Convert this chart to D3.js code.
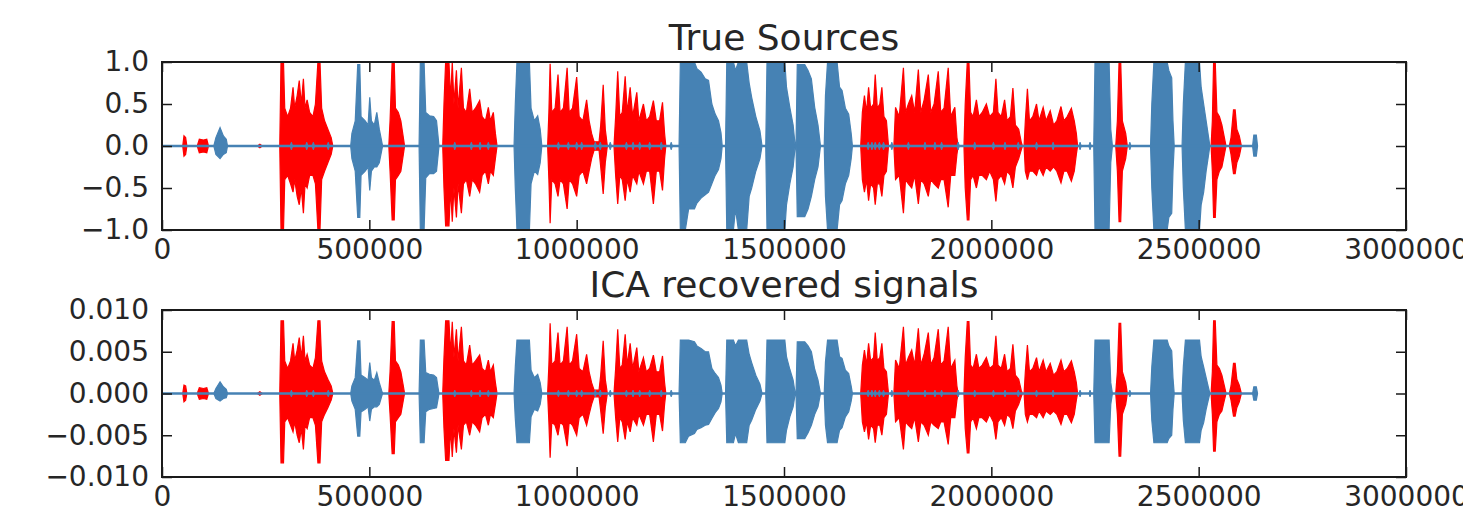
<!DOCTYPE html>
<html>
<head>
<meta charset="utf-8">
<script src="https://cdn.jsdelivr.net/npm/d3@7"></script>
<style>
  body { margin: 0; background: #fff; }
  text { font-family: "DejaVu Sans", sans-serif; fill: #262626; }
</style>
</head>
<body>
<div id="chart"></div>
<script>

// envelopes of the two signals
// each point: [sample index in thousands, upper value, lower value]

const redTop = [
    [50,0,0],[53,0.12,-0.12],[57,0.1,-0.1],[60,0,0],
    [85,0,0],[90,0.08,-0.08],[100,0.07,-0.07],[108,0.08,-0.08],[112,0,0],
    [230,0,0],[236,0.02,-0.02],[242,0,0],
    [284,0,0],[287,1.0,-1.0],[293,1.0,-1.0],[296,0.45,-0.4],[303,0.35,-0.35],[310,0.45,-0.45],[316,0.7,-0.55],[320,0.45,-0.4],[326,0.6,-0.6],[331,0.78,-0.7],[336,0.5,-0.5],[341,0.8,-0.8],[345,0.45,-0.45],[350,0.55,-0.5],[356,0.4,-0.35],[364,0.35,-0.35],[370,0.5,-0.45],[376,1.0,-1.0],[381,1.0,-1.0],[385,0.45,-0.4],[392,0.3,-0.3],[400,0.2,-0.2],[408,0.1,-0.1],[412,0,0],
    [547,0,0],[550,0.3,-0.3],[555,1.0,-0.88],[560,1.0,-0.88],[563,0.45,-0.4],[570,0.4,-0.35],[576,0.3,-0.3],[582,0.1,-0.1],[585,0,0],
    [677,0,0],[680,0.5,-0.5],[684,1.0,-0.95],[692,1.0,-0.95],[696,0.55,-0.5],[700,1.0,-0.9],[704,0.5,-0.5],[710,0.9,-0.85],[714,0.45,-0.45],[722,0.93,-0.8],[727,0.45,-0.45],[734,0.4,-0.4],[742,0.68,-0.6],[748,0.4,-0.4],[756,0.45,-0.45],[766,0.54,-0.55],[772,0.35,-0.35],[780,0.3,-0.3],[787,0.46,-0.45],[792,0.3,-0.3],[799,0.4,-0.35],[804,0.15,-0.15],[808,0,0],
    [930,0,0],[933,0.4,-0.4],[936,0.98,-0.92],[940,0.4,-0.4],[948,0.45,-0.45],[955,0.85,-0.6],[960,0.4,-0.4],[968,0.45,-0.45],[977,0.93,-0.75],[982,0.4,-0.4],[990,0.45,-0.45],[1000,0.82,-0.6],[1006,0.35,-0.35],[1015,0.3,-0.3],[1024,0.55,-0.45],[1030,0.3,-0.3],[1036,0.15,-0.15],[1042,0.05,-0.05],[1054,0.05,-0.05],[1058,0.25,-0.25],[1064,0.73,-0.57],[1069,0.2,-0.2],[1074,0,0],
    [1090,0,0],[1094,0.35,-0.35],[1099,0.89,-0.69],[1104,0.35,-0.35],[1110,0.4,-0.4],[1117,0.83,-0.65],[1122,0.4,-0.4],[1129,0.7,-0.55],[1135,0.35,-0.35],[1145,0.64,-0.45],[1150,0.3,-0.3],[1161,0.5,-0.45],[1168,0.3,-0.3],[1176,0.35,-0.3],[1185,0.54,-0.69],[1192,0.3,-0.3],[1200,0.3,-0.3],[1207,0.52,-0.53],[1212,0.15,-0.15],[1215,0,0],
    [1685,0,0],[1689,0.4,-0.4],[1694,0.6,-0.55],[1699,0.4,-0.4],[1704,0.7,-0.65],[1709,0.45,-0.45],[1716,0.5,-0.5],[1720,0.85,-0.7],[1725,0.45,-0.45],[1731,0.5,-0.45],[1736,0.7,-0.6],[1741,0.35,-0.35],[1747,0.3,-0.3],[1752,0,0],
    [1765,0,0],[1769,0.46,-0.4],[1778,0.35,-0.35],[1788,0.93,-0.8],[1793,0.4,-0.4],[1800,0.5,-0.45],[1808,0.6,-0.5],[1815,0.4,-0.35],[1824,0.91,-0.69],[1830,0.4,-0.4],[1838,0.55,-0.45],[1848,0.85,-0.6],[1854,0.4,-0.4],[1862,0.5,-0.45],[1872,0.89,-0.5],[1878,0.4,-0.4],[1886,0.45,-0.4],[1896,0.93,-0.73],[1902,0.35,-0.35],[1912,0.46,-0.35],[1917,0.1,-0.1],[1920,0,0],
    [1934,0,0],[1937,0.5,-0.5],[1942,1.0,-0.88],[1946,1.0,-0.88],[1950,0.4,-0.4],[1956,0.35,-0.35],[1964,0.55,-0.5],[1970,0.35,-0.35],[1978,0.4,-0.35],[1988,0.5,-0.4],[1996,0.35,-0.3],[2005,0.4,-0.4],[2011,0.8,-0.66],[2016,0.4,-0.4],[2024,0.35,-0.35],[2032,0.55,-0.45],[2038,0.3,-0.3],[2046,0.35,-0.35],[2052,0.69,-0.5],[2058,0.25,-0.25],[2066,0.2,-0.15],[2072,0.05,-0.05],[2075,0,0],
    [2079,0,0],[2082,0.3,-0.3],[2087,0.68,-0.4],[2092,0.3,-0.3],[2100,0.35,-0.3],[2109,0.5,-0.35],[2115,0.3,-0.25],[2125,0.46,-0.35],[2132,0.3,-0.25],[2142,0.42,-0.3],[2150,0.25,-0.25],[2158,0.3,-0.3],[2168,0.47,-0.44],[2175,0.3,-0.3],[2183,0.35,-0.3],[2193,0.45,-0.42],[2200,0.3,-0.3],[2205,0.15,-0.1],[2208,0,0],
    [2300,0,0],[2304,0.3,-0.3],[2308,1.0,-0.9],[2312,1.0,-0.9],[2316,0.3,-0.3],[2324,0.15,-0.15],[2328,0,0],
    [2530,0,0],[2533,0.3,-0.3],[2536,1.0,-0.85],[2540,1.0,-0.85],[2544,0.4,-0.4],[2550,0.35,-0.3],[2556,0.25,-0.25],[2562,0.1,-0.1],[2566,0,0],
    [2574,0,0],[2578,0.1,-0.1],[2584,0.43,-0.33],[2588,0.43,-0.33],[2592,0.2,-0.2],[2598,0.12,-0.12],[2603,0,0]
];

const blueTop = [
    [125,0,0],[130,0.1,-0.1],[140,0.22,-0.15],[148,0.12,-0.1],[155,0.08,-0.08],[158,0,0],
    [455,0,0],[458,0.15,-0.15],[466,0.3,-0.3],[472,0.97,-0.85],[477,0.97,-0.85],[480,0.35,-0.35],[490,0.3,-0.3],[497,0.25,-0.25],[501,0.58,-0.53],[505,0.3,-0.3],[512,0.25,-0.25],[518,0.4,-0.25],[524,0.2,-0.2],[530,0.05,-0.05],[532,0,0],
    [620,0,0],[623,1.0,-1.0],[632,1.0,-1.0],[636,0.4,-0.38],[645,0.36,-0.33],[655,0.35,-0.33],[662,0.3,-0.3],[666,0.1,-0.1],[668,0,0],
    [849,0,0],[852,0.5,-0.5],[856,1.0,-1.0],[886,1.0,-1.0],[890,0.45,-0.45],[898,0.3,-0.3],[906,0.36,-0.34],[912,0.2,-0.2],[916,0,0],
    [1247,0,0],[1250,1.0,-1.0],[1262,1.0,-1.0],[1270,1.0,-0.75],[1284,1.0,-0.75],[1290,0.92,-0.68],[1300,0.88,-0.62],[1310,0.8,-0.58],[1318,0.78,-0.55],[1326,0.5,-0.45],[1334,0.38,-0.35],[1342,0.3,-0.28],[1348,0.16,-0.15],[1351,0,0],
    [1359,0,0],[1362,1.0,-1.0],[1378,1.0,-1.0],[1383,0.9,-0.75],[1390,1.0,-1.0],[1410,1.0,-1.0],[1416,0.75,-0.6],[1422,0.58,-0.5],[1432,0.35,-0.3],[1442,0.18,-0.15],[1447,0,0],
    [1456,0,0],[1459,1.0,-1.0],[1502,1.0,-1.0],[1506,0.7,-0.7],[1514,0.46,-0.45],[1522,0.25,-0.25],[1527,0,0],
    [1529,0,0],[1532,0.97,-0.84],[1550,0.97,-0.84],[1558,0.9,-0.75],[1566,0.8,-0.6],[1574,0.46,-0.4],[1582,0.25,-0.25],[1588,0,0],
    [1597,0,0],[1600,0.6,-0.6],[1605,1.0,-1.0],[1628,1.0,-1.0],[1634,0.7,-0.7],[1640,0.66,-0.65],[1648,0.45,-0.45],[1656,0.38,-0.35],[1662,0.15,-0.15],[1665,0,0],
    [2247,0,0],[2250,1.0,-1.0],[2284,1.0,-1.0],[2288,0.2,-0.2],[2292,0,0],
    [2384,0,0],[2387,0.5,-0.5],[2392,1.0,-1.0],[2424,1.0,-1.0],[2428,0.9,-0.85],[2435,0.81,-0.8],[2438,0.3,-0.3],[2441,0,0],
    [2460,0,0],[2463,0.5,-0.5],[2468,1.0,-1.0],[2502,1.0,-1.0],[2506,0.7,-0.7],[2512,0.5,-0.55],[2518,0.3,-0.3],[2524,0.1,-0.1],[2527,0,0],
    [2630,0,0],[2633,0.13,-0.12],[2639,0.13,-0.12],[2642,0,0]
];

const redBottom = [
    [50,0,0],[53,0.0010,-0.0010],[57,0.0009,-0.0008],[60,0,0],
    [85,0,0],[90,0.0007,-0.0007],[100,0.0006,-0.0006],[108,0.0007,-0.0007],[112,0,0],
    [230,0,0],[236,0.0002,-0.0002],[242,0,0],
    [284,0,0],[287,0.0087,-0.0083],[293,0.0087,-0.0083],[296,0.0039,-0.0034],[303,0.0030,-0.0029],[310,0.0039,-0.0038],[316,0.0060,-0.0046],[320,0.0039,-0.0034],[326,0.0052,-0.0050],[331,0.0067,-0.0059],[336,0.0043,-0.0042],[341,0.0069,-0.0067],[345,0.0039,-0.0038],[350,0.0047,-0.0042],[356,0.0034,-0.0029],[364,0.0030,-0.0029],[370,0.0043,-0.0038],[376,0.0087,-0.0083],[381,0.0087,-0.0083],[385,0.0039,-0.0034],[392,0.0026,-0.0025],[400,0.0017,-0.0017],[408,0.0009,-0.0008],[412,0,0],
    [547,0,0],[550,0.0026,-0.0025],[555,0.0086,-0.0072],[560,0.0086,-0.0072],[563,0.0039,-0.0034],[570,0.0034,-0.0029],[576,0.0026,-0.0025],[582,0.0009,-0.0008],[585,0,0],
    [677,0,0],[680,0.0043,-0.0042],[684,0.0087,-0.0080],[692,0.0087,-0.0080],[696,0.0047,-0.0042],[700,0.0086,-0.0076],[704,0.0043,-0.0042],[710,0.0077,-0.0071],[714,0.0039,-0.0038],[722,0.0080,-0.0067],[727,0.0039,-0.0038],[734,0.0034,-0.0034],[742,0.0058,-0.0050],[748,0.0034,-0.0034],[756,0.0039,-0.0038],[766,0.0046,-0.0046],[772,0.0030,-0.0029],[780,0.0026,-0.0025],[787,0.0040,-0.0038],[792,0.0026,-0.0025],[799,0.0034,-0.0029],[804,0.0013,-0.0013],[808,0,0],
    [930,0,0],[933,0.0034,-0.0034],[936,0.0084,-0.0077],[940,0.0034,-0.0034],[948,0.0039,-0.0038],[955,0.0073,-0.0050],[960,0.0034,-0.0034],[968,0.0039,-0.0038],[977,0.0080,-0.0063],[982,0.0034,-0.0034],[990,0.0039,-0.0038],[1000,0.0071,-0.0050],[1006,0.0030,-0.0029],[1015,0.0026,-0.0025],[1024,0.0047,-0.0038],[1030,0.0026,-0.0025],[1036,0.0013,-0.0013],[1042,0.0004,-0.0004],[1054,0.0004,-0.0004],[1058,0.0022,-0.0021],[1064,0.0063,-0.0048],[1069,0.0017,-0.0017],[1074,0,0],
    [1090,0,0],[1094,0.0030,-0.0029],[1099,0.0077,-0.0058],[1104,0.0030,-0.0029],[1110,0.0034,-0.0034],[1117,0.0071,-0.0055],[1122,0.0034,-0.0034],[1129,0.0060,-0.0046],[1135,0.0030,-0.0029],[1145,0.0055,-0.0038],[1150,0.0026,-0.0025],[1161,0.0043,-0.0038],[1168,0.0026,-0.0025],[1176,0.0030,-0.0025],[1185,0.0046,-0.0058],[1192,0.0026,-0.0025],[1200,0.0026,-0.0025],[1207,0.0045,-0.0045],[1212,0.0013,-0.0013],[1215,0,0],
    [1685,0,0],[1689,0.0034,-0.0034],[1694,0.0052,-0.0046],[1699,0.0034,-0.0034],[1704,0.0060,-0.0055],[1709,0.0039,-0.0038],[1716,0.0043,-0.0042],[1720,0.0073,-0.0059],[1725,0.0039,-0.0038],[1731,0.0043,-0.0038],[1736,0.0060,-0.0050],[1741,0.0030,-0.0029],[1747,0.0026,-0.0025],[1752,0,0],
    [1765,0,0],[1769,0.0040,-0.0034],[1778,0.0030,-0.0029],[1788,0.0080,-0.0067],[1793,0.0034,-0.0034],[1800,0.0043,-0.0038],[1808,0.0052,-0.0042],[1815,0.0034,-0.0029],[1824,0.0078,-0.0058],[1830,0.0034,-0.0034],[1838,0.0047,-0.0038],[1848,0.0073,-0.0050],[1854,0.0034,-0.0034],[1862,0.0043,-0.0038],[1872,0.0077,-0.0042],[1878,0.0034,-0.0034],[1886,0.0039,-0.0034],[1896,0.0080,-0.0061],[1902,0.0030,-0.0029],[1912,0.0040,-0.0029],[1917,0.0009,-0.0008],[1920,0,0],
    [1934,0,0],[1937,0.0043,-0.0042],[1942,0.0086,-0.0071],[1946,0.0086,-0.0071],[1950,0.0034,-0.0034],[1956,0.0030,-0.0029],[1964,0.0047,-0.0042],[1970,0.0030,-0.0029],[1978,0.0034,-0.0029],[1988,0.0043,-0.0034],[1996,0.0030,-0.0025],[2005,0.0034,-0.0034],[2011,0.0069,-0.0055],[2016,0.0034,-0.0034],[2024,0.0030,-0.0029],[2032,0.0047,-0.0038],[2038,0.0026,-0.0025],[2046,0.0030,-0.0029],[2052,0.0059,-0.0042],[2058,0.0022,-0.0021],[2066,0.0017,-0.0013],[2072,0.0004,-0.0004],[2075,0,0],
    [2079,0,0],[2082,0.0026,-0.0025],[2087,0.0058,-0.0034],[2092,0.0026,-0.0025],[2100,0.0030,-0.0025],[2109,0.0043,-0.0029],[2115,0.0026,-0.0021],[2125,0.0040,-0.0029],[2132,0.0026,-0.0021],[2142,0.0036,-0.0025],[2150,0.0022,-0.0021],[2158,0.0026,-0.0025],[2168,0.0040,-0.0037],[2175,0.0026,-0.0025],[2183,0.0030,-0.0025],[2193,0.0039,-0.0035],[2200,0.0026,-0.0025],[2205,0.0013,-0.0008],[2208,0,0],
    [2300,0,0],[2304,0.0026,-0.0025],[2308,0.0084,-0.0075],[2312,0.0084,-0.0075],[2316,0.0026,-0.0025],[2324,0.0013,-0.0013],[2328,0,0],
    [2530,0,0],[2533,0.0026,-0.0025],[2536,0.0087,-0.0069],[2540,0.0087,-0.0069],[2544,0.0034,-0.0034],[2550,0.0030,-0.0025],[2556,0.0022,-0.0021],[2562,0.0009,-0.0008],[2566,0,0],
    [2574,0,0],[2578,0.0009,-0.0008],[2584,0.0036,-0.0027],[2588,0.0036,-0.0027],[2592,0.0017,-0.0017],[2598,0.0010,-0.0010],[2603,0,0]
];

const blueBottom = [
    [125,0,0],[130,0.0006,-0.0006],[140,0.0014,-0.0009],[148,0.0008,-0.0006],[155,0.0005,-0.0005],[158,0,0],
    [455,0,0],[458,0.0009,-0.0009],[466,0.0019,-0.0019],[472,0.0063,-0.0051],[477,0.0063,-0.0051],[480,0.0022,-0.0022],[490,0.0019,-0.0019],[497,0.0016,-0.0016],[501,0.0037,-0.0033],[505,0.0019,-0.0019],[512,0.0016,-0.0016],[518,0.0025,-0.0016],[524,0.0013,-0.0013],[530,0.0003,-0.0003],[532,0,0],
    [620,0,0],[623,0.0064,-0.0059],[632,0.0064,-0.0059],[636,0.0025,-0.0022],[645,0.0023,-0.0019],[655,0.0022,-0.0018],[662,0.0019,-0.0017],[666,0.0006,-0.0006],[668,0,0],
    [849,0,0],[852,0.0032,-0.0030],[856,0.0064,-0.0059],[886,0.0064,-0.0059],[890,0.0028,-0.0028],[898,0.0019,-0.0019],[906,0.0023,-0.0021],[912,0.0013,-0.0013],[916,0,0],
    [1247,0,0],[1250,0.0064,-0.0059],[1262,0.0064,-0.0059],[1270,0.0064,-0.0051],[1284,0.0062,-0.0048],[1290,0.0057,-0.0043],[1300,0.0054,-0.0041],[1310,0.0050,-0.0038],[1318,0.0050,-0.0037],[1326,0.0030,-0.0030],[1334,0.0024,-0.0023],[1342,0.0019,-0.0018],[1348,0.0010,-0.0010],[1351,0,0],
    [1359,0,0],[1362,0.0064,-0.0059],[1378,0.0064,-0.0059],[1383,0.0057,-0.0048],[1390,0.0064,-0.0059],[1410,0.0064,-0.0059],[1416,0.0047,-0.0038],[1422,0.0037,-0.0032],[1432,0.0022,-0.0019],[1442,0.0011,-0.0009],[1447,0,0],
    [1456,0,0],[1459,0.0064,-0.0059],[1502,0.0064,-0.0059],[1506,0.0044,-0.0044],[1514,0.0029,-0.0028],[1522,0.0016,-0.0016],[1527,0,0],
    [1529,0,0],[1532,0.0062,-0.0054],[1550,0.0062,-0.0054],[1558,0.0057,-0.0047],[1566,0.0050,-0.0038],[1574,0.0029,-0.0025],[1582,0.0016,-0.0016],[1588,0,0],
    [1597,0,0],[1600,0.0038,-0.0038],[1605,0.0064,-0.0059],[1628,0.0064,-0.0059],[1634,0.0044,-0.0044],[1640,0.0042,-0.0041],[1648,0.0028,-0.0028],[1656,0.0024,-0.0022],[1662,0.0009,-0.0009],[1665,0,0],
    [2247,0,0],[2250,0.0064,-0.0059],[2284,0.0064,-0.0059],[2288,0.0013,-0.0013],[2292,0,0],
    [2384,0,0],[2387,0.0032,-0.0032],[2392,0.0064,-0.0059],[2424,0.0064,-0.0059],[2428,0.0057,-0.0054],[2435,0.0051,-0.0050],[2438,0.0019,-0.0019],[2441,0,0],
    [2460,0,0],[2463,0.0032,-0.0032],[2468,0.0064,-0.0059],[2502,0.0064,-0.0059],[2506,0.0044,-0.0044],[2512,0.0032,-0.0035],[2518,0.0019,-0.0019],[2524,0.0006,-0.0006],[2527,0,0],
    [2630,0,0],[2633,0.0008,-0.0008],[2639,0.0008,-0.0008],[2642,0,0]
];

// small blue bumps sitting on the zero line (thousands of samples)
const blueBlobs = [312,349,365,401,706,746,767,787,956,980,1000,1012,1045,1057,1081,
    1120,1136,1152,1176,1204,1228,1703,1712,1720,1730,1740,1760,1800,1840,1864,1880,
    1920,1960,2005,2033,2065,2109,2149,2214,2238,2334];
const blobAmpTop = 0.045;
const blobAmpBottom = 0.0004;
const signalEnd = 2642;

const xTicks = [0, 500000, 1000000, 1500000, 2000000, 2500000, 3000000];
const xTickLabels = ["0", "500000", "1000000", "1500000", "2000000", "2500000", "3000000"];
const yTicksTop = [-1, -0.5, 0, 0.5, 1];
const yLabelsTop = ["\u22121.0", "\u22120.5", "0.0", "0.5", "1.0"];
const yTicksBottom = [-0.01, -0.005, 0, 0.005, 0.01];
const yLabelsBottom = ["\u22120.010", "\u22120.005", "0.000", "0.005", "0.010"];

const titles = ["True Sources", "ICA recovered signals"];

const width = 1463;
const height = 515;
const left = 162;
const right = 1406;

let svg = d3.select("#chart")
    .append("svg")
    .attr("width", width)
    .attr("height", height)
    .attr("style", "background-color:#fff");

let xScale = d3.scaleLinear()
    .domain([0, 3000000])
    .range([left, right]);

let panels = [
    { title: titles[0], top: 62, bottom: 230, titleY: 50, domain: [-1, 1],
      ticks: yTicksTop, labels: yLabelsTop, red: redTop, blue: blueTop, blob: blobAmpTop },
    { title: titles[1], top: 310, bottom: 477, titleY: 297, domain: [-0.01, 0.01],
      ticks: yTicksBottom, labels: yLabelsBottom, red: redBottom, blue: blueBottom, blob: blobAmpBottom }
];

panels.forEach(function (p, i) {
    let yScale = d3.scaleLinear()
        .domain(p.domain)
        .range([p.bottom, p.top]);

    svg.append("clipPath")
        .attr("id", "clip" + i)
        .append("rect")
        .attr("x", left)
        .attr("y", p.top)
        .attr("width", right - left)
        .attr("height", p.bottom - p.top);

    let plot = svg.append("g").attr("clip-path", "url(#clip" + i + ")");

    let area = d3.area()
        .x(d => xScale(d[0] * 1000))
        .y0(d => yScale(d[2]))
        .y1(d => yScale(d[1]));

    // red first, blue on top of it
    plot.append("path")
        .datum(p.red)
        .attr("d", area)
        .attr("fill", "#ff0000")
        .attr("stroke", "#ff0000")
        .attr("stroke-width", 1.2);

    plot.append("path")
        .datum(p.blue)
        .attr("d", area)
        .attr("fill", "steelblue")
        .attr("stroke", "steelblue")
        .attr("stroke-width", 1.2);

    plot.append("line")
        .attr("x1", xScale(0))
        .attr("x2", xScale(signalEnd * 1000))
        .attr("y1", yScale(0))
        .attr("y2", yScale(0))
        .attr("stroke", "steelblue")
        .attr("stroke-width", 2.5);

    plot.selectAll(".blob")
        .data(blueBlobs)
        .enter()
        .append("path")
        .attr("d", k => area([[k - 3, 0, 0], [k, p.blob, -p.blob], [k + 3, 0, 0]]))
        .attr("fill", "steelblue")
        .attr("stroke", "steelblue")
        .attr("stroke-width", 1);

    /* axes, ticks point inwards on all four sides */
    let tickStyle = g => {
        g.select(".domain").remove();
        g.selectAll(".tick line").attr("stroke", "#1a1a1a").attr("stroke-width", 1.5);
        g.selectAll("text").attr("font-size", 28).attr("fill", "#262626")
            .attr("font-family", "DejaVu Sans, sans-serif");
    };

    svg.append("g")
        .attr("transform", "translate(" + left + ",0)")
        .call(d3.axisLeft(yScale).tickValues(p.ticks)
            .tickFormat((d, j) => p.labels[j]).tickSize(-10).tickPadding(13))
        .call(tickStyle);

    svg.append("g")
        .attr("transform", "translate(" + right + ",0)")
        .call(d3.axisRight(yScale).tickValues(p.ticks).tickFormat("").tickSize(-10))
        .call(tickStyle);

    svg.append("g")
        .attr("transform", "translate(0," + p.bottom + ")")
        .call(d3.axisBottom(xScale).tickValues(xTicks)
            .tickFormat((d, j) => xTickLabels[j]).tickSize(-10).tickPadding(9))
        .call(tickStyle);

    svg.append("g")
        .attr("transform", "translate(0," + p.top + ")")
        .call(d3.axisTop(xScale).tickValues(xTicks).tickFormat("").tickSize(-10))
        .call(tickStyle);

    svg.append("rect")
        .attr("x", left)
        .attr("y", p.top)
        .attr("width", right - left)
        .attr("height", p.bottom - p.top)
        .attr("fill", "none")
        .attr("stroke", "#1a1a1a")
        .attr("stroke-width", 2);

    svg.append("text")
        .attr("x", (left + right) / 2)
        .attr("y", p.titleY)
        .attr("text-anchor", "middle")
        .attr("font-size", 36)
        .text(p.title);
});

</script>
</body>
</html>
